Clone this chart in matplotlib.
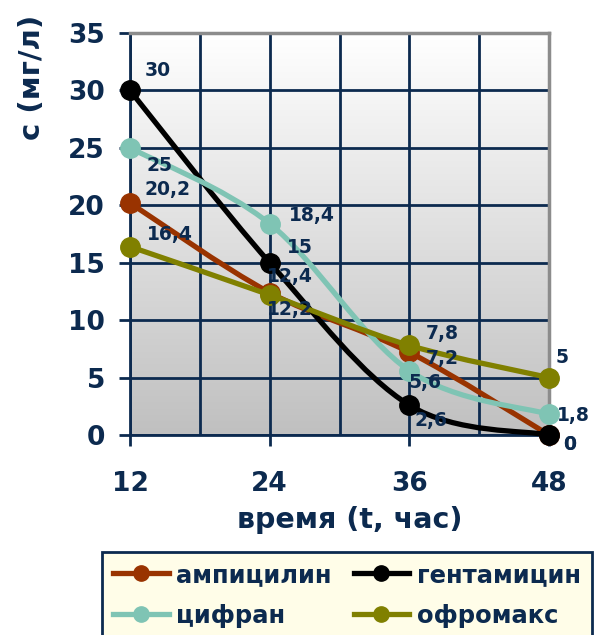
import numpy as np
import matplotlib
matplotlib.use("Agg")
import matplotlib.pyplot as plt
from matplotlib.path import Path
from matplotlib.patches import PathPatch
from matplotlib.lines import Line2D
from matplotlib.colors import LinearSegmentedColormap

plt.rcParams['font.family'] = ['DejaVu Sans']

hours = [12, 24, 36, 48]
series_names = ["ампицилин", "гентамицин", "цифран", "офромакс"]
ampicillin = [20.2, 12.4, 7.2, 0]
gentamicin = [30, 15, 2.6, 0]
cifran = [25, 18.4, 5.6, 1.8]
oframax = [16.4, 12.2, 7.8, 5]
x_ticks = [12, 24, 36, 48]
y_ticks = [0, 5, 10, 15, 20, 25, 30, 35]

colors = ["#993300", "#000000", "#7fc4b4", "#808000"]
navy = "#0c2a4f"

# label offsets in pixels (dx, dy)
offsets = {
    0: [(38, 13), (20, 16), (33, -6), (21, -9)],
    1: [(28, 20), (30, 15), (22, -15), (21, -9)],
    2: [(30, -18), (42, 8), (16, -12), (24, -1)],
    3: [(40, 12), (20, -15), (33, 12), (13, 20)],
}

fig = plt.figure(figsize=(5.97, 6.35), dpi=100)
ax = fig.add_axes([130/597, 1-435/635, (549-130)/597, (435-33)/635])
ax.set_xlim(12, 48)
ax.set_ylim(0, 35)

# gradient background
grad = np.linspace(1.0, 0.0, 256).reshape(-1, 1)
cmap = LinearSegmentedColormap.from_list("g", ["#c0c0c0", "#ffffff"])
ax.imshow(grad, extent=[12, 48, 0, 35], aspect='auto', cmap=cmap, origin='upper', zorder=0)

ax.set_xticks(x_ticks)
ax.set_xticks([18, 30, 42], minor=True)
ax.set_yticks(y_ticks)
ax.grid(True, which='both', color=navy, linewidth=2.0)
ax.set_axisbelow(False)
ax.tick_params(axis='x', which='minor', length=0)
ax.tick_params(axis='both', which='major', direction='out', length=8, width=2, color=navy,
               labelcolor=navy, labelsize=19)
ax.tick_params(axis='x', which='major', pad=18)
ax.tick_params(axis='y', which='major', pad=10)
for lab in ax.get_xticklabels() + ax.get_yticklabels():
    lab.set_fontweight('bold')

for s in ['left', 'bottom']:
    ax.spines[s].set_color(navy)
    ax.spines[s].set_linewidth(2)
for s in ['top', 'right']:
    ax.spines[s].set_color("#8c8c8c")
    ax.spines[s].set_linewidth(2.5)
    ax.spines[s].set_zorder(2.7)


def smooth_path(xs, ys):
    pts = np.column_stack([xs, ys]).astype(float)
    n = len(pts)
    verts = [pts[0]]
    codes = [Path.MOVETO]
    for i in range(n - 1):
        p0 = pts[i - 1] if i > 0 else pts[i]
        p1 = pts[i]
        p2 = pts[i + 1]
        p3 = pts[i + 2] if i + 2 < n else pts[i + 1]
        c1 = p1 + (p2 - p0) / 6.0
        c2 = p2 - (p3 - p1) / 6.0
        verts += [c1, c2, p2]
        codes += [Path.CURVE4] * 3
    return Path(verts, codes)


all_series = [ampicillin, gentamicin, cifran, oframax]
for k, (vals, col) in enumerate(zip(all_series, colors)):
    path = smooth_path(hours, vals)
    patch = PathPatch(path, facecolor='none', edgecolor=col, linewidth=3.8,
                      zorder=3 + k, clip_on=False, capstyle='round', joinstyle='round')
    ax.add_patch(patch)
    ax.plot(hours, vals, linestyle='none', marker='o', markersize=14, color=col,
            zorder=3 + k, clip_on=False)
    for j, (xv, yv) in enumerate(zip(hours, vals)):
        dx, dy = offsets[k][j]
        txt = ("%g" % yv).replace('.', ',')
        ax.annotate(txt, (xv, yv), xytext=(dx, dy), textcoords='offset pixels',
                    ha='center', va='center', fontsize=13.5, fontweight='bold',
                    color=navy, zorder=10, annotation_clip=False)

fig.text(350/597, 1-520/635, "время (t, час)", ha='center', va='center',
         fontsize=20.5, fontweight='bold', color=navy)
fig.text(32/597, 1-77/635, "c (мг/л)", ha='center', va='center', rotation=90,
         fontsize=21, fontweight='bold', color=navy)

handles = [Line2D([], [], color=c, linewidth=3.8, marker='o', markersize=11) for c in colors]
# row-major ordering for a 2-column legend
order = [0, 2, 1, 3]
leg = fig.legend([handles[i] for i in order], [series_names[i] for i in order],
                 loc='upper left', bbox_to_anchor=(102/597, 1-552/635), borderaxespad=0,
                 ncol=2, frameon=True,
                 fontsize=17.5, handlelength=2.3, handletextpad=0.3, columnspacing=0.9,
                 labelspacing=0.7, borderpad=0.45, fancybox=False)
leg.get_frame().set_facecolor("#fffde8")
leg.get_frame().set_edgecolor(navy)
leg.get_frame().set_linewidth(2)
leg.get_frame().set_alpha(1)
for t in leg.get_texts():
    t.set_color(navy)
    t.set_fontweight('bold')

fig.savefig("out.png", dpi=100)
